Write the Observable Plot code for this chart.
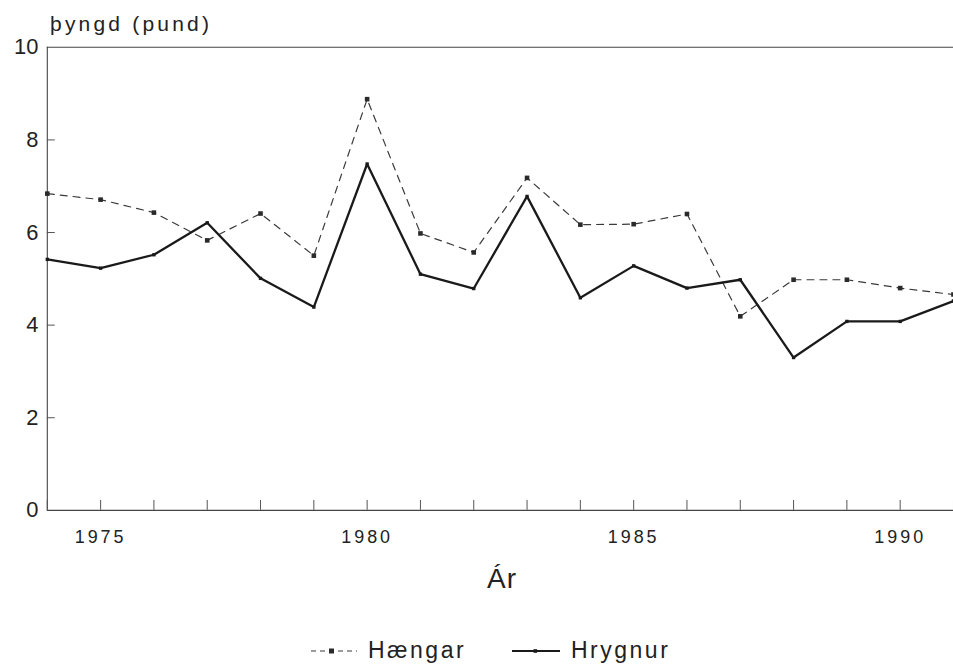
<!DOCTYPE html>
<html>
<head>
<meta charset="utf-8">
<script src="https://cdn.jsdelivr.net/npm/d3@7"></script>
<script src="https://cdn.jsdelivr.net/npm/@observablehq/plot@0.6"></script>
<style>
  html, body { margin: 0; padding: 0; background: #fff; overflow: hidden; width: 953px; height: 669px; }
  #wrap { position: relative; width: 953px; height: 669px; font-family: "Liberation Sans", Arial, sans-serif; color: #222; }
  #chart svg { display: block; }
  #chart g[aria-label="x-axis tick label"] text { letter-spacing: 3px; }
  .ttl { position: absolute; white-space: nowrap; line-height: 1; }
  #ytitle { left: 50px; top: 13px; font-size: 21px; letter-spacing: 3.2px; }
  #xtitle { left: 0; width: 1004px; text-align: center; top: 565px; font-size: 28px; letter-spacing: 1px; }
  #legend { position: relative; height: 59px; width: 953px; }
  .lg { position: absolute; top: 30px; display: flex; align-items: center; font-size: 23px; letter-spacing: 2.5px; }
  .lg svg { margin-right: 11px; }
</style>
</head>
<body>
<div id="wrap">
<div id="chart"></div>
<div id="legend"></div>
<div id="ytitle" class="ttl"></div>
<div id="xtitle" class="ttl"></div>
</div>
<script>
const years   = [1974,1975,1976,1977,1978,1979,1980,1981,1982,1983,1984,1985,1986,1987,1988,1989,1990,1991];
const haengar = [6.84,6.71,6.43,5.83,6.41,5.5,8.88,5.98,5.57,7.18,6.17,6.18,6.4,4.19,4.98,4.98,4.8,4.66];
const hrygnur = [5.42,5.23,5.52,6.21,5.01,4.39,7.48,5.1,4.79,6.78,4.59,5.28,4.8,4.98,3.3,4.08,4.08,4.52];
const xLabelTicks = [1975,1980,1985,1990];
const yLabelTicks = [0,2,4,6,8,10];
const yInnerTicks = [2,4,6,8];
const seriesNames = ["Hængar","Hrygnur"];
const yTitle = "þyngd (pund)";
const xTitle = "Ár";

const rowsH = years.map((y,i) => ({year: y, value: haengar[i]}));
const rowsR = years.map((y,i) => ({year: y, value: hrygnur[i]}));

const font = "Liberation Sans, Arial, sans-serif";
const ink = "#222";

const chart = Plot.plot({
  width: 957,
  height: 610,
  marginLeft: 47,
  marginRight: 0,
  marginTop: 47,
  marginBottom: 98,
  style: {fontFamily: font, color: ink, background: "#fff", overflow: "visible"},
  x: {domain: [1974, 1991], label: null},
  y: {domain: [0, 10], label: null},
  marks: [
    Plot.ruleX([1974], {stroke: "#444", strokeWidth: 1.1}),
    Plot.ruleY([0, 10], {stroke: "#444", strokeWidth: 1.1}),
    Plot.axisX({ticks: d3.range(1974, 1992), tickSize: -10, text: null, stroke: "#555", label: null}),
    Plot.axisX({ticks: xLabelTicks, tickSize: 0, tickPadding: 20, tickFormat: d => String(d), fontSize: 18, fill: ink, label: null}),
    Plot.axisY({ticks: yInnerTicks, tickSize: -8, text: null, stroke: "#555", label: null}),
    Plot.axisY({ticks: yLabelTicks, tickSize: 0, tickPadding: 9, fontSize: 22, fill: ink, label: null}),
    Plot.line(rowsH, {x: "year", y: "value", stroke: "#3a3a3a", strokeWidth: 1.2, strokeDasharray: "7,6"}),
    Plot.dot(rowsH, {x: "year", y: "value", symbol: "square", r: 2.6, fill: "#2a2a2a", stroke: "none"}),
    Plot.line(rowsR, {x: "year", y: "value", stroke: "#1a1a1a", strokeWidth: 2.3}),
    Plot.dot(rowsR, {x: "year", y: "value", symbol: "square", r: 1.9, fill: "#1a1a1a", stroke: "none"})
  ]
});
document.getElementById("chart").appendChild(chart);
document.getElementById("ytitle").textContent = yTitle;
document.getElementById("xtitle").textContent = xTitle;

// legend
const legend = document.getElementById("legend");
function item(name, left, dashed) {
  const d = document.createElement("div");
  d.className = "lg";
  d.style.left = left + "px";
  const sw = dashed
    ? `<svg width="46" height="20"><line x1="0" y1="10" x2="46" y2="10" stroke="#3a3a3a" stroke-width="1.2" stroke-dasharray="5,4"/><rect x="18" y="7.5" width="5" height="5" fill="#2a2a2a"/></svg>`
    : `<svg width="48" height="20"><line x1="0" y1="10" x2="48" y2="10" stroke="#1a1a1a" stroke-width="2"/><rect x="21.5" y="8.2" width="3.6" height="3.6" fill="#1a1a1a"/></svg>`;
  d.innerHTML = sw + `<span>${name}</span>`;
  legend.appendChild(d);
}
item(seriesNames[0], 311, true);
item(seriesNames[1], 512, false);
</script>
</body>
</html>
